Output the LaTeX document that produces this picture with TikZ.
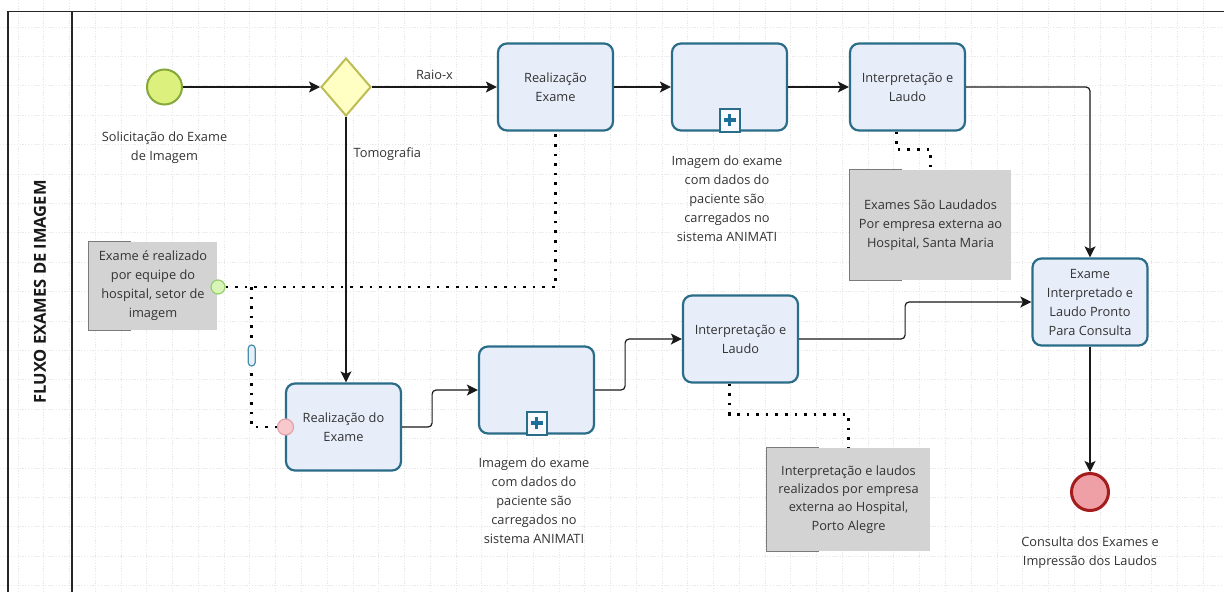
\documentclass[tikz,border=0pt]{standalone}
\usepackage{fontspec}
\setmainfont{Open Sans}
\usetikzlibrary{arrows.meta,shapes.geometric,calc}

\definecolor{taskfill}{HTML}{E8EDFA}
\definecolor{taskline}{HTML}{2A6D88}
\definecolor{txt}{HTML}{333333}
\definecolor{gwfill}{HTML}{FFFFC4}
\definecolor{gwline}{HTML}{BDBD55}
\definecolor{startfill}{HTML}{DCF07E}
\definecolor{startline}{HTML}{86A83A}
\definecolor{endfill}{HTML}{EEA0A6}
\definecolor{endline}{HTML}{A51C1C}
\definecolor{notefill}{HTML}{D3D3D3}
\definecolor{notebracket}{HTML}{7A7A7A}
\definecolor{linkfill}{HTML}{D8F5B8}
\definecolor{linkline}{HTML}{96CE6E}
\definecolor{errfill}{HTML}{F7C9CC}
\definecolor{errline}{HTML}{E4A2A8}
\definecolor{capfill}{HTML}{E6F0FA}
\definecolor{capline}{HTML}{4C8CAE}
\definecolor{plusblue}{HTML}{1D6F9A}
\definecolor{gridcol}{HTML}{E8E8E8}

\tikzset{
  txtfont/.style={font=\fontsize{12.8}{19}\selectfont, text=txt},
  task/.style={draw=taskline, fill=taskfill, line width=2.2pt, rounded corners=9pt,
    minimum width=115pt, minimum height=87pt, align=center, inner sep=2pt, txtfont},
  gateway/.style={diamond, draw=gwline, fill=gwfill, line width=2pt,
    minimum width=50pt, minimum height=58pt, inner sep=0pt},
  startev/.style={circle, draw=startline, fill=startfill, line width=2pt,
    minimum size=35pt, inner sep=0pt},
  endev/.style={circle, draw=endline, fill=endfill, line width=3pt,
    minimum size=37pt, inner sep=0pt},
  lbl/.style={align=center, inner sep=1pt, txtfont},
  note/.style={fill=notefill, align=center, inner sep=2pt, txtfont},
  bracket/.style={draw=notebracket, line width=1.2pt},
  flow/.style={draw=black!90, line width=1.2pt, rounded corners=4pt,
    -{Stealth[length=11pt,width=11pt,inset=2.5pt]}},
  assoc/.style={draw=black, line width=2.6pt, dash pattern=on 2.6pt off 7pt},
  gridline/.style={draw=gridcol, line width=0.7pt, dash pattern=on 1.2pt off 1.6pt},
  poolline/.style={draw=black!85, line width=1.5pt},
  marker/.style={draw=taskline, fill=white!70!taskfill, line width=2pt},
}

% collapsed sub-process marker at the bottom centre of a task
\newcommand\subprocmarker[1]{%
  \draw[marker] ($(#1.south)+(-10,0)$) rectangle ($(#1.south)+(10,-23)$);
  \draw[plusblue, line width=3.6pt] ($(#1.south)+(-6,-11.5)$) -- ($(#1.south)+(6,-11.5)$);
  \draw[plusblue, line width=3.6pt] ($(#1.south)+(0,-5.5)$) -- ($(#1.south)+(0,-17.5)$);
}

\begin{document}
\begin{tikzpicture}[x=1pt,y=-1pt]
\useasboundingbox (0,0) rectangle (1224,592);
\fill[white] (0,0) rectangle (1224,592);

% background grid
\foreach \k in {0,...,46} \draw[gridline] ({18+25.76*\k},0) -- ({18+25.76*\k},592);
\foreach \k in {0,...,19} \draw[gridline] (0,{27+29.4*\k}) -- (1224,{27+29.4*\k});

% pool and lane
\draw[poolline] (8,592) -- (8,11.5) -- (1224,11.5);
\draw[poolline] (72,11.5) -- (72,592);
\node[rotate=90, font=\bfseries\fontsize{16.5}{17}\selectfont, text=black!90] (title) at (40,292) {FLUXO EXAMES DE IMAGEM};

% events and gateway
\node[startev] (start) at (164.5,87) {};
\node[lbl] (startlbl) at (164.5,147.5) {Solicitação do Exame\\de Imagem};
\node[gateway] (gw) at (346,87) {};

% upper branch
\node[task] (re1) at (555.5,87) {Realização\\Exame};
\node[task] (sp1) at (729.5,87) {};
\subprocmarker{sp1}
\node[lbl] (sp1lbl) at (727,198.5) {Imagem do exame\\com dados do\\paciente são\\carregados no\\sistema ANIMATI};
\node[task] (in1) at (907.5,87) {Interpretação e\\Laudo};

% result and end
\node[task] (ex) at (1090,302) {Exame\\Interpretado e\\Laudo Pronto\\Para Consulta};
\node[endev] (end) at (1090,492) {};
\node[lbl] (endlbl) at (1090,552.5) {Consulta dos Exames e\\Impressão dos Laudos};

% lower branch
\node[task] (rd) at (343.5,427) {Realização do\\Exame};
\node[task] (sp2) at (536.5,390) {};
\subprocmarker{sp2}
\node[lbl] (sp2lbl) at (534,501) {Imagem do exame\\com dados do\\paciente são\\carregados no\\sistema ANIMATI};
\node[task] (in2) at (740.5,339) {Interpretação e\\Laudo};

% text annotations
\node[note, minimum width=161pt, minimum height=110pt] (n1) at (930.5,225)
  {Exames São Laudados\\Por empresa externa ao\\Hospital, Santa Maria};
\draw[bracket] ([xshift=52pt]n1.north west) -- (n1.north west) -- (n1.south west) -- ([xshift=52pt]n1.south west);
\node[note, minimum width=163pt, minimum height=103pt, font=\fontsize{12.8}{18.2}\selectfont] (n2) at (848.5,499.5)
  {Interpretação e laudos\\realizados por empresa\\externa ao Hospital,\\Porto Alegre};
\draw[bracket] ([xshift=52pt]n2.north west) -- (n2.north west) -- (n2.south west) -- ([xshift=52pt]n2.south west);
\node[note, minimum width=128pt, minimum height=88pt] (n3) at (153,286)
  {Exame é realizado\\por equipe do\\hospital, setor de\\imagem};
\draw[bracket] ([xshift=42pt]n3.north west) -- (n3.north west) -- (n3.south west) -- ([xshift=42pt]n3.south west);

% associations
\node[circle, draw=errline, fill=errfill, line width=1.2pt, minimum size=16pt, inner sep=0pt] (pc) at (285.5,427) {};
\coordinate (br) at (251.7,287);
\draw[assoc] (br) |- (pc.west);
\node[rounded corners=3.5pt, draw=capline, fill=capfill, line width=1.2pt, minimum width=7pt, minimum height=21pt, inner sep=0pt] (cap) at (251.7,355.5) {};
\node[circle, draw=linkline, fill=linkfill, line width=1.2pt, minimum size=14pt, inner sep=0pt] (gc) at (218,287) {};
\draw[assoc] (gc.east) -| (re1.south);
\draw[assoc] ([xshift=-11pt]in1.south) -- ++(0,18) -| (n1.north);
\draw[assoc] ([xshift=-11pt]in2.south) -- ++(0,31) -| (n2.north);

% sequence flows
\draw[flow] (start) -- (gw.west);
\draw[flow] (gw.east) -- node[lbl, above=6pt, pos=0.5] (raio) {Raio-x} (re1.west);
\draw[flow] (re1) -- (sp1);
\draw[flow] (sp1) -- (in1);
\draw[flow] (in1.east) -| (ex.north);
\draw[flow] (gw.south) -- node[lbl, pos=0.14, right=6pt] (tomo) {Tomografia} (gw.south |- rd.north);
\draw[flow] (rd.east) -- ++(30,0) |- (sp2.west);
\draw[flow] (sp2.east) -- ++(30,0) |- (in2.west);
\draw[flow] (in2.east) -- ++(106,0) |- (ex.west);
\draw[flow] (ex.south) -- (end.north);
\end{tikzpicture}
\end{document}
